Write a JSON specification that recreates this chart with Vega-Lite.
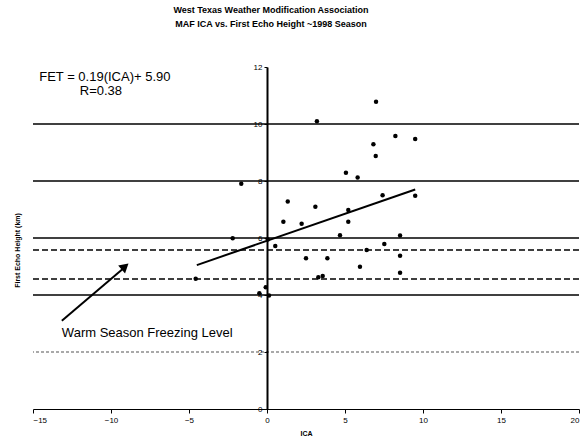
{
  "$schema": "https://vega.github.io/schema/vega-lite/v6.json",
  "autosize": "none",
  "width": 546,
  "height": 342,
  "padding": {"left": 33, "top": 67, "right": 4, "bottom": 36},
  "background": "white",
  "config": {
    "view": {"stroke": null},
    "font": "Liberation Sans",
    "axis": {"grid": false, "labelColor": "black", "titleColor": "black", "tickColor": "black", "domainColor": "black", "labelFont": "Liberation Sans", "titleFont": "Liberation Sans"}
  },
  "title": {
    "text": ["West Texas Weather Modification Association", "MAF ICA vs. First Echo Height ~1998 Season"],
    "fontSize": 9,
    "fontWeight": "bold",
    "font": "Liberation Sans",
    "color": "black",
    "anchor": "middle",
    "dx": -35,
    "offset": 34,
    "lineHeight": 14,
    "limit": 0
  },
  "layer": [
    {
      "data": {"values": [{"FET": 10}, {"FET": 8}, {"FET": 6}, {"FET": 4}]},
      "mark": {"type": "rule", "color": "black", "strokeWidth": 1.5},
      "encoding": {"y": {"field": "FET", "type": "quantitative"}}
    },
    {
      "data": {"values": [{"FET": 2}]},
      "mark": {"type": "rule", "color": "#555555", "strokeWidth": 1.2, "strokeDash": [3, 2]},
      "encoding": {"y": {"field": "FET", "type": "quantitative"}}
    },
    {
      "data": {"values": [{"FET": 5.58}, {"FET": 4.56}]},
      "mark": {"type": "rule", "color": "black", "strokeWidth": 1.5, "strokeDash": [6, 3]},
      "encoding": {"y": {"field": "FET", "type": "quantitative"}}
    },
    {
      "data": {"values": [
        {"ICA": -4.57, "FET": 4.57}, {"ICA": -2.2, "FET": 5.99}, {"ICA": -1.65, "FET": 7.9},
        {"ICA": -0.49, "FET": 4.06}, {"ICA": -0.08, "FET": 4.27}, {"ICA": 0.13, "FET": 3.98},
        {"ICA": 0.05, "FET": 5.95}, {"ICA": 0.53, "FET": 5.72}, {"ICA": 1.05, "FET": 6.57},
        {"ICA": 1.33, "FET": 7.28}, {"ICA": 2.22, "FET": 6.5}, {"ICA": 2.5, "FET": 5.29},
        {"ICA": 3.1, "FET": 7.1}, {"ICA": 3.2, "FET": 10.1}, {"ICA": 3.29, "FET": 4.62},
        {"ICA": 3.57, "FET": 4.67}, {"ICA": 3.87, "FET": 5.29}, {"ICA": 4.68, "FET": 6.1},
        {"ICA": 5.06, "FET": 8.29}, {"ICA": 5.21, "FET": 6.98}, {"ICA": 5.21, "FET": 6.57},
        {"ICA": 5.81, "FET": 8.12}, {"ICA": 5.96, "FET": 4.99}, {"ICA": 6.39, "FET": 5.58},
        {"ICA": 6.82, "FET": 9.29}, {"ICA": 6.97, "FET": 8.88}, {"ICA": 6.99, "FET": 10.78},
        {"ICA": 7.41, "FET": 7.5}, {"ICA": 7.52, "FET": 5.79}, {"ICA": 8.23, "FET": 9.58},
        {"ICA": 8.53, "FET": 6.09}, {"ICA": 8.53, "FET": 5.38}, {"ICA": 8.53, "FET": 4.78},
        {"ICA": 9.5, "FET": 9.47}, {"ICA": 9.5, "FET": 7.48}
      ]},
      "mark": {"type": "point", "filled": true, "shape": "circle", "size": 20, "color": "black", "opacity": 1},
      "encoding": {
        "x": {
          "field": "ICA", "type": "quantitative",
          "scale": {"domain": [-15, 20], "nice": false, "zero": false},
          "axis": {
            "title": "ICA", "values": [-15, -10, -5, 0, 5, 10, 15, 20],
            "grid": false, "domainColor": "black", "domainWidth": 1.2,
            "tickColor": "black", "tickSize": 4, "tickWidth": 1,
            "labelFontSize": 8, "labelColor": "black", "labelPadding": 3,
            "titleFontSize": 7, "titleFontWeight": "bold", "titleColor": "black", "titlePadding": 5
          }
        },
        "y": {
          "field": "FET", "type": "quantitative",
          "scale": {"domain": [0, 12], "nice": false, "zero": false},
          "axis": {
            "title": "First Echo Height (km)", "values": [0, 2, 4, 6, 8, 10, 12],
            "offset": -234, "grid": false, "zindex": 1,
            "domainColor": "black", "domainWidth": 2,
            "tickColor": "black", "tickSize": 3, "tickWidth": 1,
            "labelFontSize": 8, "labelColor": "black", "labelPadding": 2,
            "titleFontSize": 7, "titleFontWeight": "bold", "titleColor": "black",
            "titleX": -250, "titleY": 183, "titleAlign": "center", "titleBaseline": "middle"
          }
        }
      }
    },
    {
      "data": {"values": [{"ICA": -4.5, "FET": 5.05}, {"ICA": 9.5, "FET": 7.7}]},
      "mark": {"type": "line", "color": "black", "strokeWidth": 2},
      "encoding": {
        "x": {"field": "ICA", "type": "quantitative"},
        "y": {"field": "FET", "type": "quantitative"}
      }
    },
    {
      "data": {"values": [{"ICA": -13.15, "FET": 3.1}, {"ICA": -9.1, "FET": 4.98}]},
      "mark": {"type": "line", "color": "black", "strokeWidth": 2},
      "encoding": {
        "x": {"field": "ICA", "type": "quantitative"},
        "y": {"field": "FET", "type": "quantitative"}
      }
    },
    {
      "data": {"values": [{"ICA": -9.1, "FET": 5.0}]},
      "mark": {"type": "point", "shape": "triangle-up", "filled": true, "size": 110, "angle": 49, "color": "black", "opacity": 1},
      "encoding": {
        "x": {"field": "ICA", "type": "quantitative"},
        "y": {"field": "FET", "type": "quantitative"}
      }
    },
    {
      "data": {"values": [
        {"ICA": -14.6, "FET": 11.65, "label": "FET = 0.19(ICA)+ 5.90"},
        {"ICA": -12.0, "FET": 11.15, "label": "R=0.38"},
        {"ICA": -13.15, "FET": 2.67, "label": "Warm Season Freezing Level"}
      ]},
      "mark": {"type": "text", "align": "left", "baseline": "middle", "fontSize": 13, "letterSpacing": -0.4, "font": "Liberation Sans", "color": "black"},
      "encoding": {
        "x": {"field": "ICA", "type": "quantitative"},
        "y": {"field": "FET", "type": "quantitative"},
        "text": {"field": "label"}
      }
    }
  ]
}
